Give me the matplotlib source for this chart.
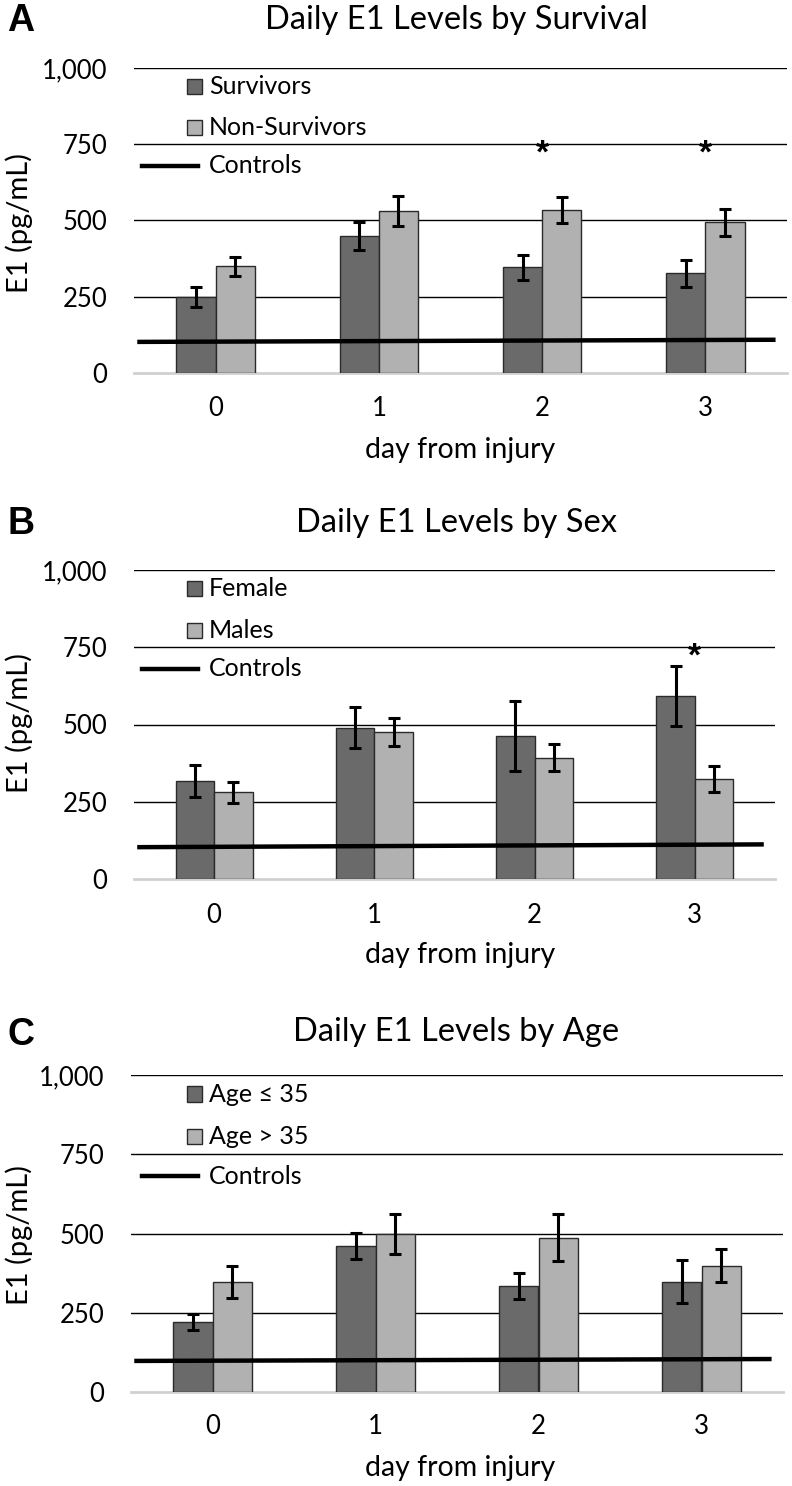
import numpy as np
import matplotlib
matplotlib.use("Agg")
import matplotlib.pyplot as plt
from matplotlib.patches import Rectangle
from matplotlib.lines import Line2D

W, H = 792, 1486
FONT = ['Lato', 'DejaVu Sans']
ARIAL = ['Liberation Sans', 'DejaVu Sans']

days = ['0', '1', '2', '3']

# panel A - survival
survivors = [248, 450, 346, 327]
survivors_err = [33, 46, 42, 45]
non_survivors = [350, 532, 534, 494]
non_survivors_err = [31, 49, 43, 45]
controls_a = [102, 109]
stars_a = [False, False, True, True]

# panel B - sex
female = [317, 490, 462, 591]
female_err = [52, 66, 114, 97]
males = [280, 476, 393, 324]
males_err = [35, 44, 44, 42]
controls_b = [103, 112]
stars_b = [False, False, False, True]

# panel C - age
age_young = [221, 461, 334, 348]
age_young_err = [26, 41, 41, 67]
age_old = [346, 497, 487, 399]
age_old_err = [51, 63, 74, 51]
controls_c = [98, 104]
stars_c = [False, False, False, False]

DARK = '#6a6a6a'
LIGHT = '#b1b1b1'
EDGE = '#2a2a2a'
STAR_Y = 718

fig = plt.figure(figsize=(W / 100, H / 100), dpi=100)


def px(x, y):
    return x / W, 1 - y / H


def draw_panel(letter, title, top, bottom, left, right, s1, e1, s2, e2, ctrl,
               stars, labels, title_y, tick_y, xlab_y, ylab_y, letter_y):
    ax = fig.add_axes([left / W, 1 - bottom / H, (right - left) / W, (bottom - top) / H])
    x = np.arange(len(days))
    bw = 0.24
    ax.bar(x - bw / 2, s1, bw, color=DARK, edgecolor=EDGE, linewidth=1.0, zorder=3)
    ax.bar(x + bw / 2, s2, bw, color=LIGHT, edgecolor=EDGE, linewidth=1.0, zorder=3)
    ekw = dict(fmt='none', ecolor='black', elinewidth=2.2, capsize=4, capthick=2.2, zorder=4)
    ax.errorbar(x - bw / 2, s1, yerr=e1, **ekw)
    ax.errorbar(x + bw / 2, s2, yerr=e2, **ekw)
    ax.plot([-0.48, 3.43], ctrl, color='black', lw=3.2, zorder=5, solid_capstyle='butt')
    for i, st in enumerate(stars):
        if st:
            ax.text(x[i], STAR_Y, '*', ha='center', va='center', fontsize=24,
                    fontweight='bold', family=ARIAL, zorder=6)
    ax.set_xlim(-0.5, 3.5)
    ax.set_ylim(0, 1000)
    ax.set_yticks([0, 250, 500, 750, 1000])
    ax.set_yticklabels(['0', '250', '500', '750', '1,000'])
    ax.set_xticks(x)
    ax.set_xticklabels([])
    for v in [250, 500, 750, 1000]:
        ax.axhline(v, color='black', lw=1.0, zorder=1)
    for sp in ['top', 'right', 'left']:
        ax.spines[sp].set_visible(False)
    ax.spines['bottom'].set_color('#d0d0d0')
    ax.spines['bottom'].set_linewidth(2)
    ax.spines['bottom'].set_zorder(2)
    ax.tick_params(length=0, labelsize=18.5, pad=19)
    for t in ax.get_yticklabels():
        t.set_family(FONT)

    # tick labels under each day
    for i, d in enumerate(days):
        xf = ax.transData.transform((x[i], 0))[0] / W
        fig.text(xf, 1 - tick_y / H, d, ha='center', va='center', fontsize=18.5, family=FONT)

    # legend drawn by hand
    tr = ax.transAxes
    aw = right - left
    for yy, col, lab in [(0.94, DARK, labels[0]), (0.805, LIGHT, labels[1])]:
        ax.add_patch(Rectangle(((187 - left) / aw, yy - 0.024), 15 / aw, 0.048,
                               transform=tr, facecolor=col, edgecolor=EDGE,
                               lw=1.0, clip_on=False, zorder=6))
        ax.text((209 - left) / aw, yy, lab, transform=tr, va='center', ha='left',
                fontsize=18, family=FONT)
    ax.add_line(Line2D([(142 - left) / aw, (198 - left) / aw], [0.68, 0.68], transform=tr,
                       color='black', lw=3.2, clip_on=False))
    ax.text((209 - left) / aw, 0.68, 'Controls', transform=tr, va='center', ha='left',
            fontsize=18, family=FONT)

    fig.text(*px(456, title_y), title, ha='center', va='center', fontsize=23.5, family=FONT)
    fig.text(*px(21, letter_y), letter, ha='center', va='center', fontsize=27,
             fontweight='bold', family=ARIAL)
    fig.text(*px(460, xlab_y), 'day from injury', ha='center', va='center',
             fontsize=20.5, family=FONT)
    fig.text(*px(19, ylab_y), 'E1 (pg/mL)', ha='center', va='center', rotation=90,
             fontsize=21, family=FONT)
    return ax


draw_panel('A', 'Daily E1 Levels by Survival', 68, 373, 134, 787,
           survivors, survivors_err, non_survivors, non_survivors_err, controls_a, stars_a,
           ['Survivors', 'Non-Survivors'], 20, 408, 450, 223, 21)
draw_panel('B', 'Daily E1 Levels by Sex', 570, 879, 134, 775,
           female, female_err, males, males_err, controls_b, stars_b,
           ['Female', 'Males'], 523, 915, 955, 723, 524)
draw_panel('C', 'Daily E1 Levels by Age', 1075, 1392, 131, 783,
           age_young, age_young_err, age_old, age_old_err, controls_c, stars_c,
           ['Age ≤ 35', 'Age > 35'], 1032, 1427, 1468, 1235, 1035)

fig.savefig('out.png', dpi=100)
